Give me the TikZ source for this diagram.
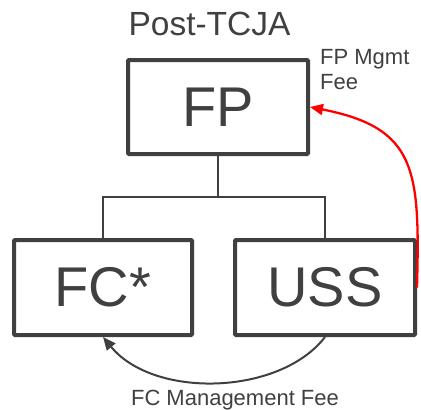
\documentclass[tikz,border=0pt]{standalone}
\usepackage{fontspec}
\setmainfont{Liberation Sans}
\usetikzlibrary{arrows.meta}
\definecolor{ink}{HTML}{404040}
\definecolor{flow}{HTML}{FF0000}
\tikzset{
  entity/.style={draw=ink, line width=4pt, rounded corners=1pt, text=ink,
    font=\fontsize{56}{60}\selectfont, inner sep=0pt},
  tree/.style={draw=ink, line width=1.5pt},
  feelabel/.style={text=ink, font=\fontsize{22}{25}\selectfont, inner sep=0pt},
  tip/.style={-{Triangle[length=13pt,width=11pt]}},
}
\begin{document}
\begin{tikzpicture}[x=1pt,y=-1pt]
  \useasboundingbox (0,0) rectangle (421,410);

  % title
  \node[text=ink, font=\fontsize{33.5}{36}\selectfont, inner sep=0pt, anchor=base]
    (title) at (209.5,35) {Post-TCJA};

  % entities
  \node[entity, minimum width=180pt, minimum height=94pt] (FP)  at (218,107)   {FP};
  \node[entity, minimum width=178pt, minimum height=95pt] (FC)  at (103,287.5) {FC*};
  \node[entity, minimum width=180pt, minimum height=95pt] (USS) at (325,287.5) {USS};

  % ownership tree
  \coordinate (j) at (218,197);
  \draw[tree] (FP.south) -- (j);
  \draw[tree] (FC.north) |- (j) -| (USS.north);

  % fee flows
  \draw[flow, line width=2.3pt, tip]
    (USS.east) .. controls (420,170) and (417,128) .. (FP.east);
  \draw[ink, line width=2pt, tip]
    (USS.south) .. controls (280,395.5) and (154,399) .. (FC.south);

  % labels (base anchor of a multi-line node sits on its last line)
  \node[feelabel, align=left, anchor=base west] (mgmt) at (320,89) {FP Mgmt\\Fee};
  \node[feelabel, anchor=base] (fcfee) at (235,405) {FC Management Fee};
\end{tikzpicture}
\end{document}
